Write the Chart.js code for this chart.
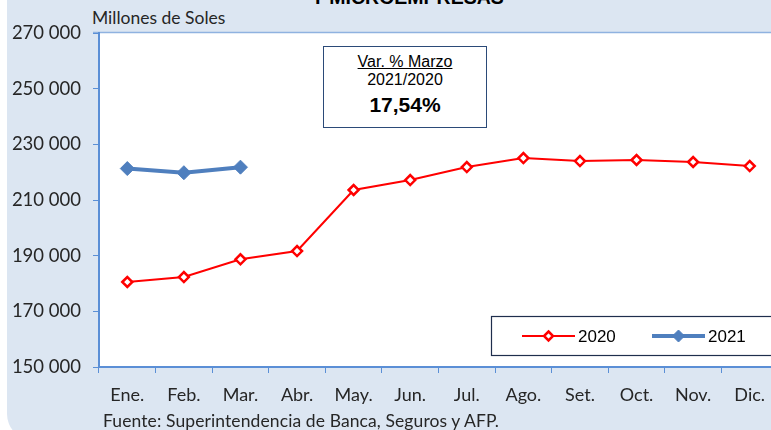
<!DOCTYPE html>
<html>
<head>
<meta charset="utf-8">
<script src="https://cdn.jsdelivr.net/npm/chart.js@4"></script>
<style>
    body { margin: 0; width: 771px; height: 430px; overflow: hidden; background: #fff; position: relative; }
    #panel { position: absolute; left: 7px; top: -20px; width: 820px; height: 460px; background: #dce6f2; border-radius: 0 0 0 26px; }
    #wrap { position: absolute; left: 0; top: 0; width: 800px; height: 430px; }
    .txt { position: absolute; font-family: Lato, sans-serif; color: #262626; white-space: nowrap; }
    #title { left: 0; width: 815px; text-align: center; top: -12px; font: bold 19.5px "Liberation Sans", Arial, sans-serif; line-height: 19px; color: #000; }
    #unit { left: 92px; top: 7px; font-size: 17.5px; }
    #source { left: 103px; top: 410px; font-size: 17.5px; letter-spacing: 0.1px; }
    #note { position: absolute; left: 323px; top: 46px; width: 162px; height: 80px; border: 1.5px solid #2b4a78; background: #fff;
            font-family: "Liberation Sans", Arial, sans-serif; text-align: center; color: #000; }
    #note .a { margin-top: 6px; font-size: 16px; text-decoration: underline; line-height: 18px; }
    #note .b { font-size: 16px; line-height: 18px; }
    #note .c { font-size: 21px; font-weight: bold; line-height: 32px; }
</style>
</head>
<body>
<div id="panel"></div>
<div class="txt" id="title">Y MICROEMPRESAS</div>
<div class="txt" id="unit">Millones de Soles</div>
<div id="wrap"><canvas id="chart" width="800" height="430"></canvas></div>
<div id="note">
    <div class="a">Var. % Marzo</div>
    <div class="b">2021/2020</div>
    <div class="c">17,54%</div>
</div>
<div class="txt" id="source">Fuente: Superintendencia de Banca, Seguros y AFP.</div>
<script>
const months = ['Ene.', 'Feb.', 'Mar.', 'Abr.', 'May.', 'Jun.', 'Jul.', 'Ago.', 'Set.', 'Oct.', 'Nov.', 'Dic.'];
const values2020 = [180540, 182330, 188700, 191670, 213590, 217180, 221850, 225080, 224000, 224370, 223650, 222210];
const values2021 = [221300, 219800, 221800];
const yTicks = [150000, 170000, 190000, 210000, 230000, 250000, 270000];

const axisBlue = '#5b8fd6';

function formatTick(v) {
    return String(v).replace(/\B(?=(\d{3})+(?!\d))/g, ' ');
}

// white plot area + light top border
const plotBg = {
    id: 'plotBg',
    beforeDraw(chart) {
        const {ctx, chartArea: a} = chart;
        ctx.save();
        ctx.fillStyle = '#fff';
        ctx.fillRect(a.left, a.top, a.right - a.left, a.bottom - a.top);
        ctx.strokeStyle = '#8fb2e0';
        ctx.lineWidth = 1.5;
        ctx.beginPath();
        ctx.moveTo(a.left - 6, a.top - 0.5);
        ctx.lineTo(a.right, a.top - 0.5);
        ctx.stroke();
        ctx.restore();
    }
};

// legend box drawn like the original
const boxLegend = {
    id: 'boxLegend',
    afterDraw(chart) {
        const ctx = chart.ctx;
        const x = 491, y = 316, w = 300, h = 39;
        ctx.save();
        ctx.fillStyle = '#fff';
        ctx.fillRect(x, y, w, h);
        ctx.strokeStyle = '#1f2e4d';
        ctx.lineWidth = 1.2;
        ctx.strokeRect(x + 0.5, y + 0.5, w, h);
        const cy = y + 20;
        const items = [
            {ds: chart.data.datasets[0], x0: 522, x1: 575, tx: 578, r: 4.5},
            {ds: chart.data.datasets[1], x0: 652, x1: 705, tx: 708, r: 6}
        ];
        items.forEach(it => {
            ctx.strokeStyle = it.ds.borderColor;
            ctx.lineWidth = it.ds.borderWidth;
            ctx.beginPath();
            ctx.moveTo(it.x0, cy);
            ctx.lineTo(it.x1, cy);
            ctx.stroke();
            ctx.fillStyle = it.ds.pointBackgroundColor;
            ctx.strokeStyle = it.ds.pointBorderColor;
            ctx.lineWidth = it.ds.pointBorderWidth;
            ctx.beginPath();
            const r = it.r, mx = (it.x0 + it.x1) / 2;
            ctx.moveTo(mx, cy - r); ctx.lineTo(mx + r, cy); ctx.lineTo(mx, cy + r); ctx.lineTo(mx - r, cy); ctx.closePath();
            ctx.fill(); ctx.stroke();
            ctx.fillStyle = '#000';
            ctx.font = '17px "Liberation Sans", Arial, sans-serif';
            ctx.textBaseline = 'middle';
            ctx.fillText(it.ds.label, it.tx, cy + 1);
        });
        ctx.restore();
    }
};

new Chart(document.getElementById('chart'), {
    type: 'line',
    data: {
        labels: months,
        datasets: [{
            label: '2020',
            data: values2020,
            borderColor: '#ff0000',
            borderWidth: 2,
            pointStyle: 'rectRot',
            pointRadius: 5,
            pointBorderWidth: 2.5,
            pointBackgroundColor: '#fff',
            pointBorderColor: '#ff0000',
            tension: 0
        }, {
            label: '2021',
            data: values2021,
            borderColor: '#4f7fbe',
            borderWidth: 4,
            pointStyle: 'rectRot',
            pointRadius: 7,
            pointBorderWidth: 1,
            pointBackgroundColor: '#4f7fbe',
            pointBorderColor: '#4f7fbe',
            tension: 0
        }]
    },
    options: {
        responsive: false,
        animation: false,
        events: [],
        layout: {padding: {top: 33, right: 22, bottom: 0, left: 0}},
        plugins: {legend: {display: false}, tooltip: {enabled: false}},
        scales: {
            x: {
                offset: true,
                afterFit: s => { s.height = 63; },
                border: {color: axisBlue, width: 2},
                grid: {drawOnChartArea: false, drawTicks: true, tickLength: 6, color: axisBlue, offset: true},
                ticks: {color: '#262626', font: {family: 'Lato', size: 18}, padding: 11, maxRotation: 0, autoSkip: false}
            },
            y: {
                min: 150000,
                max: 270000,
                afterFit: s => { s.width = 99; },
                afterBuildTicks: s => { s.ticks = yTicks.map(v => ({value: v})); },
                border: {color: axisBlue, width: 2},
                grid: {drawOnChartArea: false, drawTicks: true, tickLength: 6, color: axisBlue},
                ticks: {color: '#262626', font: {family: 'Lato', size: 18.5}, padding: 12, callback: v => formatTick(v)}
            }
        }
    },
    plugins: [plotBg, boxLegend]
});
</script>
</body>
</html>
